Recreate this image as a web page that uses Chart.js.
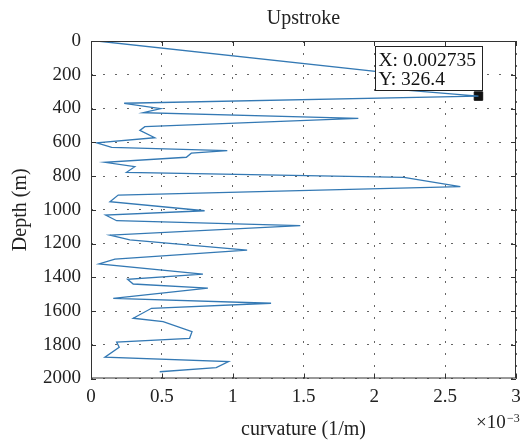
<!DOCTYPE html>
<html lang="en">
  <head>
    <meta charset="UTF-8" />
    <title>Upstroke</title>
    <style>
      html, body { margin: 0; padding: 0; background: #fff; }
    </style>
  </head>
  <body>
    <script src="https://cdn.jsdelivr.net/npm/chart.js"></script>
    <canvas id="myChart" width="523" height="443"></canvas>
    <script>
      // curvature is in units of 1e-3 1/m (axis shows x10^-3), depth in m
      const curvature = [
        0.044, 2.12, 2.2, 2.735, 0.234, 0.492, 0.368, 1.887, 0.38, 0.345,
        0.45, 0.04, 0.146, 0.962, 0.708, 0.673, 0.098, 0.309, 0.251, 2.209,
        2.607, 0.192, 0.134, 0.802, 0.103, 0.181, 1.477, 0.134, 0.274, 1.102,
        0.169, 0.056, 0.79, 0.258, 0.298, 0.825, 0.157, 1.271, 0.427, 0.298,
        0.509, 0.713, 0.696, 0.181, 0.199, 0.098, 0.971, 0.884, 0.485
      ];
      const depth = [
        0, 190, 290, 326.4, 369, 401, 425, 459, 508, 530,
        573, 603, 630, 650, 665, 689, 719, 745, 778, 808,
        863, 913, 952, 1006, 1031, 1065, 1094, 1150, 1179, 1239,
        1292, 1321, 1381, 1412, 1440, 1465, 1525, 1554, 1584, 1643,
        1663, 1723, 1762, 1784, 1815, 1874, 1900, 1936, 1960
      ];
      const curvatureTicks = [0, 0.5, 1, 1.5, 2, 2.5, 3];
      const depthTicks = [0, 200, 400, 600, 800, 1000, 1200, 1400, 1600, 1800, 2000];

      // data tip
      const tipCurvature = 2.735;
      const tipDepth = 326.4;

      const serif = '"Liberation Serif", "Times New Roman", serif';
      const ink = "#222";

      const frame = {
        id: "frame",
        afterDatasetsDraw(chart) {
          const { ctx, chartArea: a, scales } = chart;
          const len = 5;
          ctx.save();
          ctx.strokeStyle = "#333";
          ctx.lineWidth = 1;
          ctx.strokeRect(a.left + 0.5, a.top + 0.5, a.right - a.left - 1, a.bottom - a.top - 1);
          ctx.beginPath();
          scales.x.ticks.forEach((t) => {
            const px = Math.round(scales.x.getPixelForValue(t.value)) + 0.5;
            ctx.moveTo(px, a.bottom);
            ctx.lineTo(px, a.bottom - len);
            ctx.moveTo(px, a.top);
            ctx.lineTo(px, a.top + len);
          });
          scales.y.ticks.forEach((t) => {
            const py = Math.round(scales.y.getPixelForValue(t.value)) + 0.5;
            ctx.moveTo(a.left, py);
            ctx.lineTo(a.left + len, py);
            ctx.moveTo(a.right, py);
            ctx.lineTo(a.right - len, py);
          });
          ctx.stroke();

          // exponent for the x axis
          ctx.fillStyle = ink;
          ctx.textBaseline = "alphabetic";
          ctx.textAlign = "left";
          ctx.font = "19px " + serif;
          ctx.fillText("\u00d710", 476, 428);
          ctx.font = "12px " + serif;
          ctx.fillText("\u22123", 507, 422);
          ctx.restore();
        },
      };

      const dataTip = {
        id: "dataTip",
        afterDatasetsDraw(chart) {
          const pt = chart.getDatasetMeta(1).data[0];
          if (!pt) return;
          const { ctx } = chart;
          const left = Math.round(pt.x - 103) + 0.5;
          const top = Math.round(pt.y - 50) + 0.5;
          const w = 107;
          const h = 44;
          ctx.save();
          ctx.fillStyle = "#fff";
          ctx.fillRect(left, top, w, h);
          ctx.strokeStyle = "#222";
          ctx.lineWidth = 1;
          ctx.strokeRect(left, top, w, h);
          ctx.fillStyle = "#111";
          ctx.font = "19.5px " + serif;
          ctx.textAlign = "left";
          ctx.textBaseline = "alphabetic";
          ctx.fillText("X: " + (tipCurvature / 1000).toFixed(6), left + 3, top + 19);
          ctx.fillText("Y: " + tipDepth, left + 3, top + 38);
          ctx.restore();
        },
      };

      new Chart("myChart", {
        type: "scatter",
        data: {
          datasets: [
            {
              data: curvature.map((c, i) => ({ x: c, y: depth[i] })),
              showLine: true,
              borderColor: "#3479b4",
              borderWidth: 1.3,
              pointRadius: 0,
              tension: 0,
            },
            {
              data: [{ x: tipCurvature, y: tipDepth }],
              pointStyle: "rect",
              pointRadius: 6,
              pointBackgroundColor: "#111",
              pointBorderColor: "#111",
              pointBorderWidth: 1,
            },
          ],
        },
        options: {
          responsive: false,
          animation: false,
          events: [],
          layout: { padding: { left: 0, right: 5.5, top: 0, bottom: 0 } },
          plugins: {
            legend: { display: false },
            tooltip: { enabled: false },
            title: {
              display: true,
              text: "Upstroke",
              fullSize: false,
              color: ink,
              font: { family: serif, size: 20, weight: "normal" },
              padding: { top: 7, bottom: 10 },
            },
          },
          scales: {
            x: {
              type: "linear",
              min: 0,
              max: 3,
              afterBuildTicks: (s) => {
                s.ticks = curvatureTicks.map((v) => ({ value: v }));
              },
              afterFit: (s) => {
                s.height = 64.5;
                s.paddingLeft = 0;
                s.paddingRight = 0;
              },
              grid: { color: "#666", lineWidth: 1, drawTicks: false },
              border: { display: false, dash: [2, 10] },
              ticks: {
                padding: 7.5,
                color: ink,
                font: { family: serif, size: 19 },
                maxRotation: 0,
                callback: (v) => String(v),
              },
              title: {
                display: true,
                text: "curvature (1/m)",
                color: ink,
                font: { family: serif, size: 20 },
                padding: { top: 0, bottom: 1.5 },
              },
            },
            y: {
              type: "linear",
              reverse: true,
              min: 0,
              max: 2000,
              afterBuildTicks: (s) => {
                s.ticks = depthTicks.map((v) => ({ value: v }));
              },
              afterFit: (s) => {
                s.width = 91;
              },
              grid: { color: "#666", lineWidth: 1, drawTicks: false },
              border: { display: false, dash: [2, 10] },
              ticks: {
                padding: 10,
                color: ink,
                font: { family: serif, size: 19 },
                callback: (v) => String(v),
              },
              title: {
                display: true,
                text: "Depth (m)",
                color: ink,
                font: { family: serif, size: 20 },
                padding: { top: 9, bottom: 0 },
              },
            },
          },
        },
        plugins: [frame, dataTip],
      });
    </script>
  </body>
</html>
